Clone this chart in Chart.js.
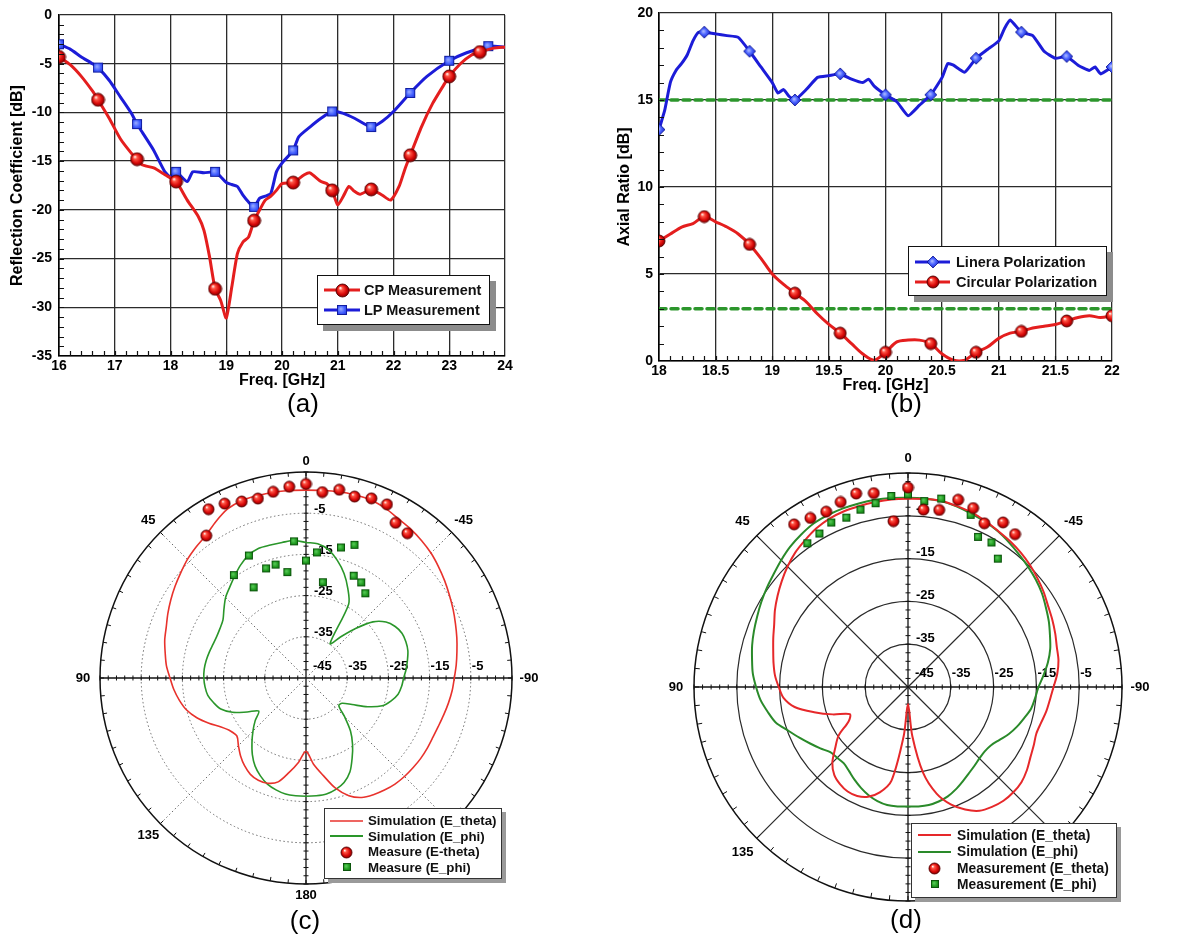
<!DOCTYPE html>
<html>
<head>
<meta charset="utf-8">
<script src="https://cdn.jsdelivr.net/npm/chart.js@4.4.1/dist/chart.umd.min.js"></script>
<style>
  body { margin: 0; background: #fff; font-family: Arial, 'Liberation Sans', Helvetica, sans-serif; }
  #fig { position: relative; width: 1203px; height: 940px; overflow: hidden; }
  #fig > canvas { position: absolute; }
  .cap { position: absolute; font-size: 26px; color: #000; transform: translate(-50%, -50%); z-index: 3; }
  .leg { position: absolute; background: #fff; box-sizing: border-box; z-index: 3; }
  .leg .row { position: absolute; display: flex; align-items: center; white-space: nowrap; color: #111; font-weight: bold; }
  .leg .row canvas { display: block; }
</style>
</head>
<body>
<div id="fig">
  <canvas id="cA" width="530" height="400" style="left:0;top:0"></canvas>
  <canvas id="cB" width="530" height="400" style="left:600px;top:0"></canvas>
  <canvas id="cC" width="480" height="480" style="left:66px;top:438px"></canvas>
  <canvas id="cD" width="500" height="500" style="left:658px;top:437px"></canvas>
  <div class="cap" style="left:303px;top:403px">(a)</div>
  <div class="cap" style="left:906px;top:403px">(b)</div>
  <div class="cap" style="left:305px;top:920px">(c)</div>
  <div class="cap" style="left:906px;top:919px">(d)</div>
</div>
<script>
/* (a) reflection coefficient, 16-24 GHz */
const aCpFreq = [16.0,16.2,16.4,16.6,16.7,16.9,17.1,17.3,17.4,17.5,17.7,17.9,18.1,18.3,18.5,18.6,18.7,18.8,18.9,19.0,
  19.1,19.2,19.3,19.4,19.5,19.6,19.7,19.8,19.9,20.0,20.2,20.4,20.5,20.7,20.8,20.9,21.0,21.1,21.2,21.3,
  21.4,21.6,21.8,21.95,22.1,22.2,22.3,22.5,22.7,22.9,23.0,23.2,23.4,23.55,23.8,24.0];
const aCpVal = [-4.3,-5.1,-6.3,-7.8,-8.7,-10.6,-12.7,-14.2,-14.8,-15.4,-15.7,-16.4,-17.1,-19.0,-20.7,-22.1,-24.8,-28.1,-29.3,-31.1,
  -27.9,-24.5,-23.3,-22.8,-21.1,-20.0,-19.0,-18.6,-18.0,-17.3,-17.2,-16.4,-16.2,-17.1,-17.3,-18.0,-19.5,-18.6,-17.6,-18.1,
  -18.4,-17.9,-18.5,-19.0,-17.6,-15.9,-14.4,-11.5,-9.1,-7.2,-6.3,-5.0,-4.1,-3.8,-3.4,-3.3];
const aCpMarks = [16.0,16.7,17.4,18.1,18.8,19.5,20.2,20.9,21.6,22.3,23.0,23.55];
const aLpFreq = [16.0,16.2,16.4,16.6,16.7,16.9,17.1,17.3,17.4,17.5,17.7,17.9,18.0,18.1,18.3,18.4,18.6,18.8,18.9,19.0,
  19.1,19.2,19.3,19.4,19.5,19.6,19.7,19.8,19.9,20.0,20.2,20.3,20.5,20.7,20.9,21.1,21.3,21.6,21.8,22.0,
  22.3,22.6,23.0,23.3,23.7,24.0];
const aLpVal = [-3.0,-3.5,-4.3,-5.0,-5.4,-6.7,-8.4,-10.1,-11.2,-12.1,-13.9,-16.1,-16.6,-16.1,-17.1,-16.1,-16.2,-16.1,-16.6,-17.2,
  -17.4,-17.6,-18.5,-19.2,-19.7,-18.8,-18.6,-18.3,-16.1,-15.2,-13.9,-12.5,-11.5,-10.6,-9.9,-10.1,-10.6,-11.5,-10.9,-9.9,
  -8.0,-6.3,-4.7,-3.9,-3.2,-3.3];
const aLpMarks = [16.0,16.7,17.4,18.1,18.8,19.5,20.2,20.9,21.6,22.3,23.0,23.7];

/* (b) axial ratio, 18-22 GHz */
const bLpFreq = [18.0,18.05,18.1,18.15,18.2,18.25,18.3,18.35,18.4,18.5,18.6,18.7,18.8,18.9,19.0,19.05,19.1,19.15,19.2,19.3,
  19.4,19.5,19.6,19.7,19.8,19.85,19.9,20.0,20.1,20.2,20.3,20.4,20.5,20.55,20.6,20.7,20.8,20.9,21.0,21.05,
  21.1,21.2,21.3,21.4,21.5,21.6,21.7,21.8,21.85,21.9,22.0];
const bLpVal = [13.3,14.4,16.0,16.7,17.1,17.6,18.4,18.9,18.9,18.8,18.7,18.6,17.8,16.9,16.0,15.4,15.6,15.2,15.0,15.6,
  16.3,16.4,16.5,16.2,16.0,16.2,15.8,15.3,14.9,14.1,14.7,15.3,16.3,17.1,17.0,16.6,17.4,17.9,18.4,19.1,
  19.6,18.9,18.7,17.8,17.4,17.5,17.0,16.7,16.9,16.5,16.9];
const bCpFreq = [18.0,18.1,18.2,18.3,18.4,18.5,18.6,18.7,18.8,18.9,19.0,19.1,19.2,19.3,19.4,19.5,19.6,19.7,19.8,19.9,
  20.0,20.1,20.2,20.3,20.4,20.5,20.6,20.7,20.8,20.9,21.0,21.1,21.2,21.3,21.4,21.5,21.6,21.7,21.8,21.9,22.0];
const bCpVal = [6.9,7.3,7.7,7.9,8.3,8.0,7.7,7.3,6.7,5.9,5.0,4.4,3.9,3.4,2.7,2.1,1.6,1.0,0.4,0.05,
  0.5,1.1,1.2,1.2,1.0,0.4,0.05,0.05,0.5,0.8,1.3,1.6,1.7,1.9,2.0,2.1,2.3,2.5,2.6,2.5,2.6];
const bMarks = [18.0,18.4,18.8,19.2,19.6,20.0,20.4,20.8,21.2,21.6,22.0];
const bLimitFreq = [18, 22];
const bLpLimit = [15, 15];
const bCpLimit = [3, 3];

/* (c),(d) radiation patterns: angle order as the polar grid runs (clockwise from the top) */
const polarAngles = [0,-5,-10,-15,-20,-25,-30,-35,-40,-45,-50,-55,-60,-65,-70,-75,-80,-85,-90,-95,
  -100,-105,-110,-115,-120,-125,-130,-135,-140,-145,-150,-155,-160,-165,-170,-175,180,175,170,165,
  160,155,150,145,140,135,130,125,120,115,110,105,100,95,90,85,80,75,70,65,60,55,50,45,40,35,30,25,20,15,10,5];
const cThetaSim = [0.6,0.7,0.9,1.0,1.0,0.5,-0.3,-0.8,-1.4,-2.1,-3.0,-3.9,-4.8,-5.6,-6.4,-7.1,-7.8,-8.4,-9.0,-9.4,
  -9.9,-10.4,-10.8,-11.0,-11.0,-11.0,-11.1,-11.2,-11.4,-11.8,-12.3,-13.0,-14.6,-17.3,-21.0,-24.0,-27.2,-24.5,-21.8,-18.9,
  -17.8,-17.6,-18.0,-19.0,-20.3,-21.8,-23.1,-22.6,-21.2,-19.0,-16.8,-15.0,-13.8,-12.8,-12.0,-11.0,-10.3,-9.5,-8.9,-8.0,
  -7.1,-6.2,-5.3,-4.3,-3.5,-2.7,-1.2,0.2,0.8,0.8,0.8,0.7];
const cPhiSim = [-12.1,-12.3,-13.4,-15.5,-18.0,-21.0,-24.3,-34.8,-32.0,-28.0,-23.8,-21.3,-20.0,-19.3,-19.2,-19.4,-20.0,-20.6,-21.3,-21.7,
  -22.3,-23.6,-25.3,-28.5,-32.1,-34.3,-34.6,-31.8,-28.2,-25.3,-22.6,-19.8,-18.0,-17.0,-16.4,-16.3,-16.3,-16.3,-16.4,-16.9,
  -17.6,-18.8,-20.3,-22.3,-24.6,-26.8,-28.9,-31.0,-28.5,-25.3,-23.0,-21.8,-20.8,-20.4,-20.2,-20.2,-20.4,-20.7,-21.0,-21.1,
  -20.9,-20.4,-19.0,-17.4,-16.2,-14.8,-13.3,-12.1,-11.5,-11.6,-11.6,-11.5];
const dThetaSim = [-1.0,-0.9,-0.8,-1.2,-1.6,-2.2,-2.9,-3.4,-4.0,-4.7,-5.5,-6.3,-7.2,-7.8,-8.4,-9.0,-9.3,-10.0,-11.0,-11.7,
  -12.2,-12.8,-13.1,-12.6,-12.0,-11.1,-10.4,-10.2,-10.3,-10.8,-11.6,-13.4,-15.8,-19.2,-24.6,-33.5,-41.0,-33.5,-22.8,-19.5,
  -17.7,-16.9,-16.8,-17.3,-18.2,-20.0,-22.8,-25.2,-29.0,-30.0,-26.3,-22.3,-18.1,-15.8,-14.8,-13.8,-13.1,-12.4,-11.5,-10.5,
  -9.1,-7.8,-6.5,-5.2,-4.0,-3.1,-2.2,-1.6,-1.3,-1.2,-1.1,-1.0];
const dPhiSim = [-0.8,-0.8,-0.9,-1.3,-1.9,-2.4,-3.0,-3.8,-4.6,-5.3,-6.0,-6.8,-7.8,-8.7,-9.7,-10.6,-11.8,-13.2,-14.5,-15.2,
  -15.8,-16.9,-17.9,-19.0,-20.3,-21.3,-21.6,-21.4,-20.9,-20.3,-19.5,-18.6,-17.8,-17.3,-17.0,-17.0,-17.1,-17.0,-17.0,-17.4,
  -18.1,-19.0,-20.0,-21.0,-21.7,-21.6,-21.3,-20.0,-18.6,-17.0,-15.2,-13.0,-11.7,-10.4,-9.5,-8.6,-8.0,-7.3,-6.7,-6.1,
  -5.4,-4.7,-4.0,-3.1,-2.2,-1.5,-0.9,-0.7,-0.6,-0.6,-0.6,-0.7];
const measAngles = [35,30,25,20,15,10,5,0,-5,-10,-15,-20,-25,-30,-35];
const cThetaMeas = [-2.8,2.3,1.7,0.6,0.1,0.9,1.6,2.1,0.3,1.4,0.6,1.4,1.5,-1.5,-2.1];
const cPhiMeas = [-14.5,-19.6,-12.2,-16.7,-16.5,-18.9,-11.7,-16.5,-14.4,-21.4,-12.2,-10.6,-17.6,-18.2,-19.9];
const dThetaMeas = [1.4,0.6,0.2,1.0,1.8,1.0,-6.1,1.6,-3.4,-3.0,0.3,-0.5,-2.8,-0.6,-1.4];
const dPhiMeas = [-4.0,-3.6,-2.6,-2.9,-2.1,-1.4,-0.2,0.0,-1.4,-0.3,null,-2.2,-6.3,-6.0,-8.4];
const ringValues = [-45,-35,-25,-15,-5];
const cAngleLabels = [0,45,90,135,180,-45,-90];
const dAngleLabels = [0,45,90,135,-45,-90];

const FONT = "Arial, 'Liberation Sans', Helvetica, sans-serif";
Chart.defaults.font.family = FONT;
Chart.defaults.color = '#000';

/* glossy marker images */
function ballImg(d) {
  const s = d + 2, c = document.createElement('canvas'); c.width = c.height = s;
  const g = c.getContext('2d'), m = s / 2, r = d / 2;
  const gr = g.createRadialGradient(m - r * 0.35, m - r * 0.4, r * 0.06, m, m, r);
  gr.addColorStop(0, '#fff2ee'); gr.addColorStop(0.25, '#ff5646'); gr.addColorStop(0.7, '#d80808'); gr.addColorStop(1, '#860000');
  g.fillStyle = gr; g.beginPath(); g.arc(m, m, r, 0, 2 * Math.PI); g.fill();
  g.lineWidth = 0.9; g.strokeStyle = '#5a0000'; g.stroke();
  return c;
}
function squareImg(d, hi, mid, lo, edge) {
  const s = d + 2, c = document.createElement('canvas'); c.width = c.height = s;
  const g = c.getContext('2d');
  const gr = g.createRadialGradient(s * 0.4, s * 0.4, 0, s / 2, s / 2, d * 0.75);
  gr.addColorStop(0, hi); gr.addColorStop(0.5, mid); gr.addColorStop(1, lo);
  g.fillStyle = gr; g.fillRect(1, 1, d, d);
  g.strokeStyle = edge; g.lineWidth = 0.8; g.strokeRect(1.4, 1.4, d - 0.8, d - 0.8);
  return c;
}
function diamondImg(d) {
  const s = d + 2, c = document.createElement('canvas'); c.width = c.height = s;
  const g = c.getContext('2d'), m = s / 2, r = d / 2;
  const gr = g.createRadialGradient(m - 1, m - 1, 0, m, m, r);
  gr.addColorStop(0, '#b8c4ff'); gr.addColorStop(0.5, '#4a63ff'); gr.addColorStop(1, '#1a24c8');
  g.fillStyle = gr; g.beginPath();
  g.moveTo(m, m - r); g.lineTo(m + r, m); g.lineTo(m, m + r); g.lineTo(m - r, m); g.closePath(); g.fill();
  g.strokeStyle = '#0a1490'; g.lineWidth = 0.8; g.stroke();
  return c;
}

const RED = '#e41e1e', BLUE = '#1c1cd8';
const imgA = { ball: ballImg(13), sq: squareImg(10, '#9eb0ff', '#3f5cff', '#1622c0', '#0a1490') };
const imgB = { ball: ballImg(12), dia: diamondImg(12) };
const imgP = { ball: ballImg(11), sq: squareImg(8, '#5fd05f', '#1f9a1f', '#0b5e0b', '#0a4a0a') };

/* inward minor ticks on the left and bottom frame */
const minorTicks = {
  id: 'minorTicks',
  afterDatasetsDraw(chart, _args, o) {
    const { ctx, chartArea: a, scales: { x, y } } = chart;
    ctx.save();
    ctx.strokeStyle = '#111'; ctx.lineWidth = 1.2; ctx.beginPath();
    for (let k = 1; x.min + k * o.dx < x.max - 1e-6; k++) {
      const px = Math.round(x.getPixelForValue(x.min + k * o.dx)) + 0.5;
      ctx.moveTo(px, a.bottom); ctx.lineTo(px, a.bottom - o.len);
    }
    for (let k = 1; y.min + k * o.dy < y.max - 1e-6; k++) {
      const py = Math.round(y.getPixelForValue(y.min + k * o.dy)) + 0.5;
      ctx.moveTo(a.left, py); ctx.lineTo(a.left + o.len, py);
    }
    ctx.stroke(); ctx.restore();
  }
};

function pts(xs, ys) { return xs.map((x, i) => ({ x, y: ys[i] })); }
function markAt(xs, marks, r) { return c => marks.some(m => Math.abs(m - xs[c.dataIndex]) < 1e-6) ? r : 0; }

function cartesian(id, o) {
  return new Chart(document.getElementById(id), {
    type: 'line',
    data: { datasets: o.datasets },
    options: {
      responsive: false, animation: false, events: [],
      layout: { padding: o.pad },
      elements: { line: { borderJoinStyle: 'round', borderCapStyle: 'round' } },
      plugins: { legend: { display: false }, tooltip: { enabled: false }, minorTicks: o.minor },
      scales: {
        x: {
          type: 'linear', min: o.x[0], max: o.x[1],
          ticks: { stepSize: o.x[2], font: { size: 14, weight: 'bold' }, color: '#000', padding: 2,
                   maxRotation: 0, autoSkip: false, callback: v => String(v) },
          grid: { color: '#2b2b2b', lineWidth: 1.3, drawTicks: false },
          border: { color: '#000', width: 1.6 },
          title: { display: true, text: 'Freq. [GHz]', font: { size: 16, weight: 'bold' }, color: '#000',
                   padding: { top: 0, bottom: o.xTitlePad } },
          afterFit: s => { s.height = o.xH; s.paddingLeft = 0; s.paddingRight = 0; }
        },
        y: {
          min: o.y[0], max: o.y[1],
          ticks: { stepSize: o.y[2], font: { size: 14, weight: 'bold' }, color: '#000', padding: o.yTickPad,
                   callback: v => String(v) },
          grid: { color: '#2b2b2b', lineWidth: 1.3, drawTicks: false },
          border: { color: '#000', width: 1.6 },
          title: { display: true, text: o.yTitle, font: { size: 16, weight: 'bold' }, color: '#000',
                   padding: { top: o.yTitlePad, bottom: 0 } },
          afterFit: s => { s.width = o.yW; s.paddingTop = 0; s.paddingBottom = 0; }
        }
      }
    },
    plugins: [minorTicks]
  });
}

cartesian('cA', {
  pad: { top: 15, right: 25, left: 0, bottom: 0 }, xH: 44, yW: 59, xTitlePad: 10, yTitlePad: 8, yTickPad: 7,
  x: [16, 24, 1], y: [-35, 0, 5], yTitle: 'Reflection Coefficient [dB]',
  minor: { dx: 0.2, dy: 1, len: 5 },
  datasets: [
    { data: pts(aCpFreq, aCpVal), borderColor: RED, borderWidth: 3, tension: 0.2,
      pointStyle: imgA.ball, pointRadius: markAt(aCpFreq, aCpMarks, 6) },
    { data: pts(aLpFreq, aLpVal), borderColor: BLUE, borderWidth: 3, tension: 0.2,
      pointStyle: imgA.sq, pointRadius: markAt(aLpFreq, aLpMarks, 5) }
  ]
});

cartesian('cB', {
  pad: { top: 13, right: 18, left: 0, bottom: 0 }, xH: 39, yW: 59, xTitlePad: 5, yTitlePad: 15, yTickPad: 6,
  x: [18, 22, 0.5], y: [0, 20, 5], yTitle: 'Axial Ratio [dB]',
  minor: { dx: 0.1, dy: 1, len: 5 },
  datasets: [
    { data: pts(bLpFreq, bLpVal), borderColor: BLUE, borderWidth: 3, tension: 0.15,
      pointStyle: imgB.dia, pointRadius: markAt(bLpFreq, bMarks, 6) },
    { data: pts(bCpFreq, bCpVal), borderColor: RED, borderWidth: 3, tension: 0.3,
      pointStyle: imgB.ball, pointRadius: markAt(bCpFreq, bMarks, 6) },
    { data: pts(bLimitFreq, bLpLimit), borderColor: '#2c962c', borderWidth: 3.5, borderDash: [7, 5],
      pointRadius: 0, order: 5 },
    { data: pts(bLimitFreq, bCpLimit), borderColor: '#2c962c', borderWidth: 3.5, borderDash: [7, 5],
      pointRadius: 0, order: 5 }
  ]
});

/* polar decoration: rim ticks, axis ticks, angle labels, dB labels */
const polarDecor = {
  id: 'polarDecor',
  beforeDatasetsDraw(chart, _args, o) {
    const r = chart.scales.r, ctx = chart.ctx;
    const cx = r.xCenter, cy = r.yCenter, R = r.drawingArea;
    ctx.save();
    ctx.strokeStyle = '#111'; ctx.lineWidth = 1; ctx.beginPath();
    polarAngles.forEach((a, i) => {
      const p = r.getPointPosition(i, R), q = r.getPointPosition(i, R - o.rimTick);
      ctx.moveTo(p.x, p.y); ctx.lineTo(q.x, q.y);
    });
    for (let v = -43; v <= 5; v += 2) {
      const d = r.getDistanceFromCenterForValue(v);
      [d, -d].forEach(dx => { ctx.moveTo(cx + dx, cy - 2.5); ctx.lineTo(cx + dx, cy + 2.5); });
      [d, -d].forEach(dy => { ctx.moveTo(cx - 2.5, cy + dy); ctx.lineTo(cx + 2.5, cy + dy); });
    }
    ctx.stroke();
    ctx.fillStyle = '#000'; ctx.font = 'bold 13px ' + FONT;
    ctx.textAlign = 'center'; ctx.textBaseline = 'middle';
    o.angleLabels.forEach(a => {
      const i = polarAngles.indexOf(a);
      const off = (a === 0 || a === 180) ? o.offV : (Math.abs(a) === 90 ? o.offH : o.offD);
      const p = r.getPointPosition(i, R + off);
      ctx.fillText(String(a), p.x, p.y);
    });
    ctx.textAlign = 'left';
    ringValues.forEach(v => {
      const d = r.getDistanceFromCenterForValue(v);
      ctx.fillText(String(v), cx + d + (v === -45 ? 7 : 1), cy - o.hLabelUp);
      if (v > -45 && o.vLabels.includes(v)) ctx.fillText(String(v), cx + 8, cy - d - o.vLabelUp);
    });
    ctx.restore();
  }
};

function expand(vals) {
  return polarAngles.map(a => { const k = measAngles.indexOf(a); return k < 0 ? null : vals[k]; });
}

function polar(id, o) {
  const axis = a => a === 0 || a === 90 || a === -90 || a === 180;
  const diag = a => Math.abs(a) === 45 || Math.abs(a) === 135;
  const none = 'rgba(0,0,0,0)';
  return new Chart(document.getElementById(id), {
    type: 'radar',
    data: {
      labels: polarAngles.map(String),
      datasets: [
        { data: expand(o.thetaMeas), showLine: false, fill: false, backgroundColor: none, borderColor: none,
          pointStyle: imgP.ball, pointRadius: 5, order: 0 },
        { data: expand(o.phiMeas), showLine: false, fill: false, backgroundColor: none, borderColor: none,
          pointStyle: imgP.sq, pointRadius: 4, order: 1 },
        { data: o.thetaSim, borderColor: o.red, backgroundColor: none, borderWidth: o.lw, pointRadius: 0,
          fill: false, tension: 0.3, order: 2 },
        { data: o.phiSim, borderColor: o.green, backgroundColor: none, borderWidth: o.lw, pointRadius: 0,
          fill: false, tension: 0.3, order: 3 }
      ]
    },
    options: {
      responsive: false, animation: false, events: [],
      layout: { padding: o.pad },
      plugins: { legend: { display: false }, tooltip: { enabled: false }, filler: { propagate: false }, polarDecor: o.decor },
      scales: {
        r: {
          min: -45, max: 5, startAngle: 0,
          ticks: { display: false, stepSize: 10 },
          pointLabels: { display: false },
          grid: {
            circular: true,
            color: c => c.tick.value === 5 ? '#111' : o.ringColor,
            lineWidth: c => c.tick.value === 5 ? 1.5 : o.ringWidth
          },
          border: { dash: c => c.tick && c.tick.value === 5 ? [] : o.ringDash },
          angleLines: {
            color: c => axis(polarAngles[c.index]) ? '#111' : (diag(polarAngles[c.index]) ? o.ringColor : none),
            lineWidth: c => axis(polarAngles[c.index]) ? 1.3 : (diag(polarAngles[c.index]) ? o.ringWidth : 0),
            borderDash: c => diag(polarAngles[c.index]) ? o.ringDash : []
          }
        }
      }
    },
    plugins: [polarDecor]
  });
}

polar('cC', {
  pad: 34, lw: 1.6, red: '#e8322c', green: '#2a962a',
  ringColor: '#6a6a6a', ringWidth: 1, ringDash: [1.5, 2.5],
  thetaSim: cThetaSim, phiSim: cPhiSim, thetaMeas: cThetaMeas, phiMeas: cPhiMeas,
  decor: { rimTick: 4, angleLabels: cAngleLabels, offV: 11, offH: 17, offD: 17, hLabelUp: 12, vLabelUp: 4,
           vLabels: [-35, -25, -15, -5] }
});
polar('cD', {
  pad: 36, lw: 2, red: '#e6282a', green: '#2a8a2a',
  ringColor: '#2a2a2a', ringWidth: 1.2, ringDash: [],
  thetaSim: dThetaSim, phiSim: dPhiSim, thetaMeas: dThetaMeas, phiMeas: dPhiMeas,
  decor: { rimTick: 5, angleLabels: dAngleLabels, offV: 15, offH: 18, offD: 20, hLabelUp: 14, vLabelUp: 6,
           vLabels: [-35, -25, -15, -5] }
});

/* legends */
function legend(box, rows) {
  const el = document.createElement('div');
  el.className = 'leg';
  Object.assign(el.style, { left: box.x + 'px', top: box.y + 'px', width: box.w + 'px', height: box.h + 'px',
    border: box.border, boxShadow: box.shadow });
  rows.forEach(rw => {
    const row = document.createElement('div');
    row.className = 'row';
    Object.assign(row.style, { left: box.sx + 'px', top: (rw.y - 8) + 'px', height: '16px', fontSize: box.fs + 'px' });
    const cv = document.createElement('canvas');
    cv.width = box.sw; cv.height = 16;
    const g = cv.getContext('2d');
    if (rw.color) { g.strokeStyle = rw.color; g.lineWidth = rw.lw; g.beginPath(); g.moveTo(0, 8); g.lineTo(box.sw, 8); g.stroke(); }
    if (rw.img) g.drawImage(rw.img, Math.round((box.sw - rw.img.width) / 2), Math.round((16 - rw.img.height) / 2));
    cv.style.marginRight = box.gap + 'px';
    row.appendChild(cv);
    const t = document.createElement('span');
    t.textContent = rw.label;
    row.appendChild(t);
    el.appendChild(row);
  });
  document.getElementById('fig').appendChild(el);
}

legend({ x: 317, y: 275, w: 173, h: 50, border: '1.5px solid #111', shadow: '6px 6px 0 #8c8c8c',
         sx: 6, sw: 36, gap: 4, fs: 14.5 },
  [{ label: 'CP Measurement', color: RED, lw: 3, img: imgA.ball, y: 14 },
   { label: 'LP Measurement', color: BLUE, lw: 3, img: imgA.sq, y: 34 }]);
legend({ x: 908, y: 246, w: 199, h: 50, border: '1.5px solid #111', shadow: '6px 6px 0 #8c8c8c',
         sx: 6, sw: 35, gap: 6, fs: 14.5 },
  [{ label: 'Linera Polarization', color: BLUE, lw: 3, img: imgB.dia, y: 14.5 },
   { label: 'Circular Polarization', color: RED, lw: 3, img: imgB.ball, y: 35 }]);
legend({ x: 324, y: 808, w: 178, h: 71, border: '1.5px solid #333', shadow: '4px 4px 0 #9a9a9a',
         sx: 5, sw: 33, gap: 5, fs: 13.3 },
  [{ label: 'Simulation (E_theta)', color: '#e8322c', lw: 1.6, y: 11.5 },
   { label: 'Simulation (E_phi)', color: '#2a962a', lw: 1.8, y: 27 },
   { label: 'Measure (E-theta)', img: imgP.ball, y: 42.5 },
   { label: 'Measure (E_phi)', img: imgP.sq, y: 58 }]);
legend({ x: 911, y: 823, w: 206, h: 75, border: '1.5px solid #333', shadow: '4px 4px 0 #9a9a9a',
         sx: 6, sw: 33, gap: 6, fs: 13.8 },
  [{ label: 'Simulation (E_theta)', color: '#e6282a', lw: 1.8, y: 11 },
   { label: 'Simulation (E_phi)', color: '#2a8a2a', lw: 1.8, y: 27.5 },
   { label: 'Measurement (E_theta)', img: imgP.ball, y: 44 },
   { label: 'Measurement (E_phi)', img: imgP.sq, y: 60 }]);
</script>
</body>
</html>
